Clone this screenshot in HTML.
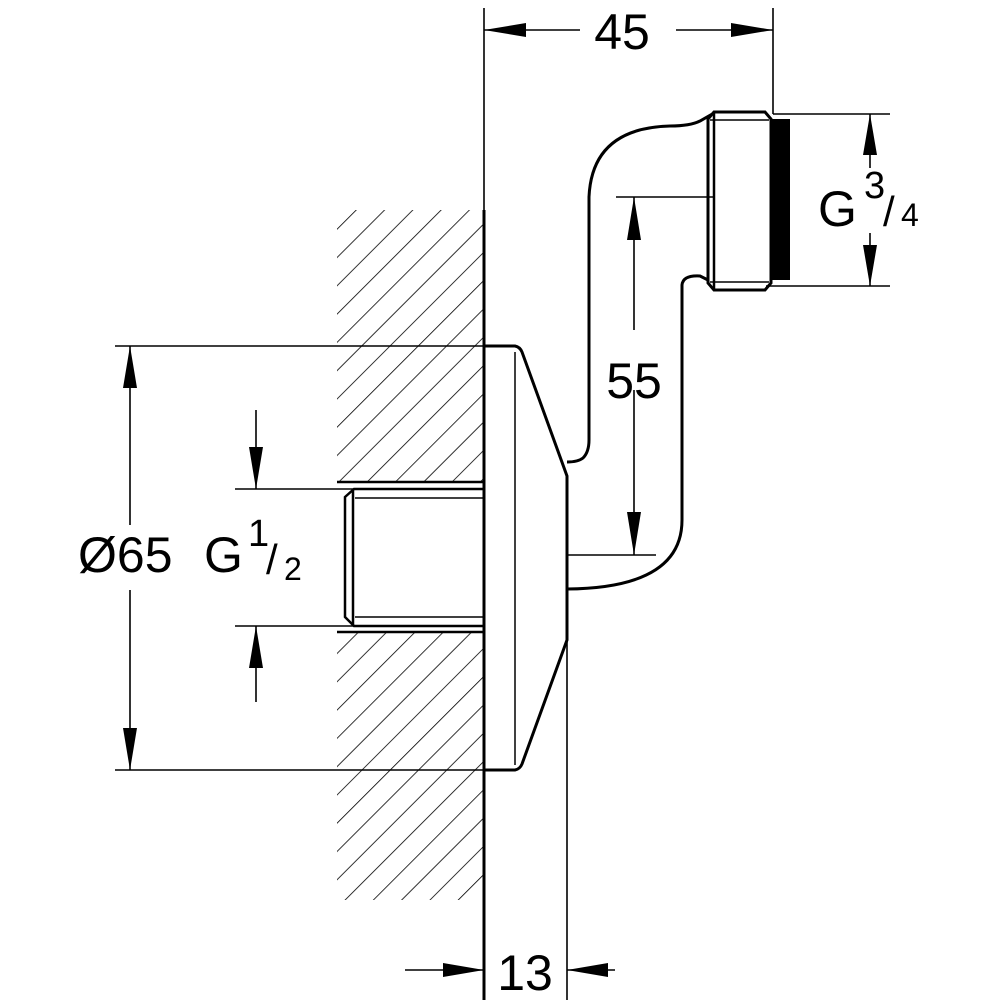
<!DOCTYPE html>
<html><head><meta charset="utf-8"><style>html,body{margin:0;padding:0;background:#fff}svg{display:block}</style></head>
<body>
<svg width="1000" height="1000" viewBox="0 0 1000 1000" xmlns="http://www.w3.org/2000/svg" font-family="Liberation Sans, Arial, sans-serif">
<defs>
<pattern id="h" patternUnits="userSpaceOnUse" width="20" height="20" patternTransform="rotate(45)">
<line x1="0" y1="0" x2="0" y2="20" stroke="#000" stroke-width="1.6"/>
</pattern>
</defs>
<rect x="337" y="210" width="146" height="272" fill="url(#h)"/>
<rect x="337" y="632" width="146" height="268" fill="url(#h)"/>
<g stroke="#000" fill="none">
<line x1="337" y1="482" x2="483" y2="482" stroke-width="2.5"/>
<line x1="337" y1="632" x2="483" y2="632" stroke-width="2.5"/>
<line x1="484" y1="210" x2="484" y2="1000" stroke-width="3"/>
<path d="M483 489 L354 489 L345 497 L345 617 L354 626 L483 626" stroke-width="2.5"/>
<line x1="353" y1="489" x2="353" y2="626" stroke-width="2.5"/>
<line x1="355" y1="498" x2="483" y2="498" stroke-width="1.5"/>
<line x1="355" y1="617" x2="483" y2="617" stroke-width="1.5"/>
<path d="M484 346 L515 346 Q520 347 522 352 L567 476 L567 640 L522 764 Q520 769 515 770 L484 770" stroke-width="3"/>
<line x1="515" y1="352" x2="515" y2="765" stroke-width="1.5"/>
<path d="M567 462 Q578 462 583 458 Q589 452 589 440 L589 197 Q592 128 670 126 Q690 126 700 121 L714 113" stroke-width="3"/>
<path d="M567 589 Q682 588 682 520 L682 285 Q683 275 700 276 L714 283" stroke-width="3"/>
<path d="M714 112 L765 112 L771 119 L771 283 L765 290 L714 290 L708 283 L708 119 Z" stroke-width="3" fill="#fff"/>
<line x1="714" y1="112" x2="714" y2="290" stroke-width="2.5"/>
<line x1="710" y1="120" x2="769" y2="120" stroke-width="1.5"/>
<line x1="710" y1="282" x2="769" y2="282" stroke-width="1.5"/>
</g>
<rect x="771" y="119" width="19" height="161" fill="#000"/>
<g stroke="#000" stroke-width="1.6" fill="none">
<line x1="484" y1="8" x2="484" y2="210"/>
<line x1="773" y1="8" x2="773" y2="114"/>
<line x1="484" y1="30" x2="580" y2="30"/>
<line x1="676" y1="30" x2="773" y2="30"/>
<line x1="616" y1="197" x2="714" y2="197"/>
<line x1="567" y1="555" x2="656" y2="555"/>
<line x1="634" y1="197" x2="634" y2="330"/>
<line x1="634" y1="390" x2="634" y2="555"/>
<line x1="773" y1="114" x2="890" y2="114"/>
<line x1="766" y1="286" x2="890" y2="286"/>
<line x1="870" y1="114" x2="870" y2="168"/>
<line x1="870" y1="233" x2="870" y2="286"/>
<line x1="115" y1="346" x2="484" y2="346"/>
<line x1="115" y1="770" x2="484" y2="770"/>
<line x1="130" y1="346" x2="130" y2="525"/>
<line x1="130" y1="590" x2="130" y2="770"/>
<line x1="235" y1="489" x2="484" y2="489"/>
<line x1="235" y1="626" x2="484" y2="626"/>
<line x1="256" y1="410" x2="256" y2="489"/>
<line x1="256" y1="626" x2="256" y2="702"/>
<line x1="567" y1="640" x2="567" y2="1000"/>
<line x1="405" y1="970" x2="484" y2="970"/>
<line x1="567" y1="970" x2="615" y2="970"/>
</g>
<g fill="#000">
<polygon points="484,30 526,23 526,37"/>
<polygon points="773,30 731,23 731,37"/>
<polygon points="634,197 627,240 641,240"/>
<polygon points="634,555 627,512 641,512"/>
<polygon points="870,114 863,155 877,155"/>
<polygon points="870,286 863,245 877,245"/>
<polygon points="130,346 123,388 137,388"/>
<polygon points="130,770 123,728 137,728"/>
<polygon points="256,489 249,447 263,447"/>
<polygon points="256,626 249,668 263,668"/>
<polygon points="484,970 443,963 443,977"/>
<polygon points="567,970 608,963 608,977"/>
</g>
<g fill="#000" font-size="50">
<text x="622" y="49" text-anchor="middle">45</text>
<text x="634" y="398" text-anchor="middle">55</text>
<text x="525" y="990" text-anchor="middle">13</text>
<text x="818" y="226">G</text>
<text x="864" y="198" font-size="38">3</text>
<text x="883" y="226" font-size="42">/</text>
<text x="901" y="226" font-size="32">4</text>
<text x="78" y="572">Ø65</text>
<text x="204" y="572">G</text>
<text x="248" y="546" font-size="38">1</text>
<text x="266" y="574" font-size="42">/</text>
<text x="284" y="580" font-size="32">2</text>
</g>
</svg>
</body></html>
